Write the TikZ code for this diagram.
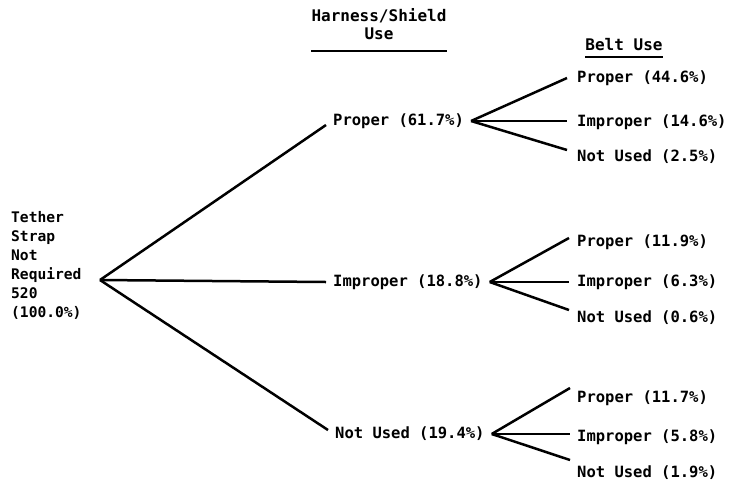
\documentclass[tikz,border=0pt]{standalone}
\usepackage{fontspec}
\newfontfamily\tw{DejaVu Sans Mono}
\begin{document}
\begin{tikzpicture}[x=1pt,y=-1pt,
  lbl/.style={font=\tw\bfseries\fontsize{15.5}{19}\selectfont, inner sep=3pt, anchor=west},
  rootlbl/.style={font=\tw\bfseries\fontsize{14.6}{19}\selectfont, inner sep=0pt, anchor=west, align=left},
  hdr/.style={font=\tw\bfseries\fontsize{16}{18}\selectfont, align=center, inner sep=0pt},
  br/.style={line width=2.5pt},
  ul/.style={line width=2pt}]
\useasboundingbox (0,0) rectangle (744,483);
% headers
\node[hdr] (hs) at (379,24) {Harness/Shield\\Use};
\draw[ul] ([yshift=-11pt]hs.south west) -- ([yshift=-11pt]hs.south east);
\node[hdr] (bu) at (624,45) {Belt Use};
\draw[ul] ([yshift=-6pt]bu.south west) -- ([yshift=-6pt]bu.south east);
% root
\node[rootlbl] (root) at (11,265) {Tether\\Strap\\Not\\Required\\520\\(100.0\%)};
\coordinate (rc) at (100,280);
% level 1
\node[lbl] (h1) at (330,121) {Proper (61.7\%)};
\node[lbl] (h2) at (330,282) {Improper (18.8\%)};
\node[lbl] (h3) at (332,434) {Not Used (19.4\%)};
\draw[br] (rc) -- ([shift={(-4,4)}]h1.west);
\draw[br] (rc) -- ([shift={(-4,0)}]h2.west);
\draw[br] (rc) -- ([shift={(-4,-4)}]h3.west);
% level 2
\node[lbl] (b11) at (574,78) {Proper (44.6\%)};
\node[lbl] (b12) at (574,122) {Improper (14.6\%)};
\node[lbl] (b13) at (574,157) {Not Used (2.5\%)};
\node[lbl] (b21) at (574,242) {Proper (11.9\%)};
\node[lbl] (b22) at (574,282) {Improper (6.3\%)};
\node[lbl] (b23) at (574,318) {Not Used (0.6\%)};
\node[lbl] (b31) at (574,398) {Proper (11.7\%)};
\node[lbl] (b32) at (574,437) {Improper (5.8\%)};
\node[lbl] (b33) at (574,473) {Not Used (1.9\%)};
\coordinate (c1) at ([xshift=4pt]h1.east);
\coordinate (c2) at ([xshift=4pt]h2.east);
\coordinate (c3) at ([xshift=4pt]h3.east);
\draw[br] (c1) -- ([shift={(-7,0)}]b11.west);
\draw[br] (c1) -- ([shift={(-7,-1)}]b12.west);
\draw[br] (c1) -- ([shift={(-7,-7)}]b13.west);
\draw[br] (c2) -- ([shift={(-5,-4)}]b21.west);
\draw[br] (c2) -- ([shift={(-5,0)}]b22.west);
\draw[br] (c2) -- ([shift={(-5,-8)}]b23.west);
\draw[br] (c3) -- ([shift={(-4,-10)}]b31.west);
\draw[br] (c3) -- ([shift={(-4,-3)}]b32.west);
\draw[br] (c3) -- ([shift={(-4,-13)}]b33.west);
\end{tikzpicture}
\end{document}
